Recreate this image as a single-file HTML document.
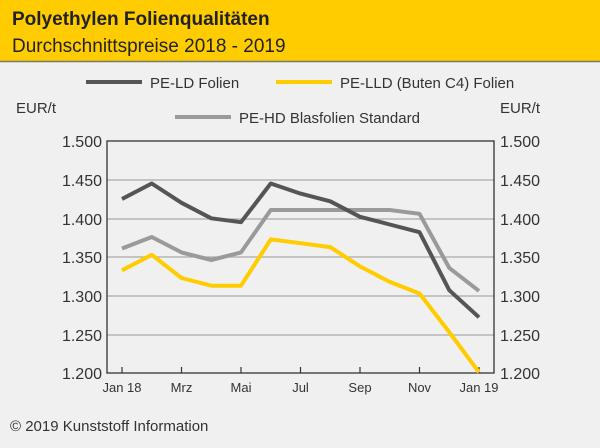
<!DOCTYPE html>
<html><head><style>
body{margin:0;width:600px;height:443px;overflow:hidden;background:#eff0ef;font-family:"Liberation Sans",sans-serif}
</style></head><body>
<svg width="600" height="443" xmlns="http://www.w3.org/2000/svg" font-family="Liberation Sans, sans-serif">
<rect width="600" height="443" fill="#eff0ef"/>
<rect width="600" height="61" fill="#ffcc00"/>
<line x1="0" y1="61.5" x2="600" y2="61.5" stroke="#7a7a6a" stroke-width="1.5"/>
<text x="12" y="25" font-size="19" font-weight="bold" fill="#222">Polyethylen Folienqualitäten</text>
<text x="12" y="52" font-size="19" fill="#222">Durchschnittspreise 2018 - 2019</text>
<g font-size="15" fill="#333">
<line x1="86" y1="82" x2="142" y2="82" stroke="#555" stroke-width="4"/>
<text x="150" y="88">PE-LD Folien</text>
<line x1="276" y1="82" x2="332" y2="82" stroke="#ffcc00" stroke-width="4"/>
<text x="340" y="88">PE-LLD (Buten C4) Folien</text>
<line x1="175" y1="117" x2="231" y2="117" stroke="#9a9a9a" stroke-width="4"/>
<text x="239" y="123">PE-HD Blasfolien Standard</text>
<text x="16" y="113">EUR/t</text>
<text x="500" y="113">EUR/t</text>
</g>
<g stroke="#aaa" stroke-width="1.3">
<line x1="107" y1="180" x2="494" y2="180"/><line x1="107" y1="219" x2="494" y2="219"/>
<line x1="107" y1="257" x2="494" y2="257"/><line x1="107" y1="296" x2="494" y2="296"/>
<line x1="107" y1="335" x2="494" y2="335"/>
</g>
<rect x="107" y="141" width="387" height="232" fill="none" stroke="#333" stroke-width="1.3"/>
<g stroke="#333" stroke-width="1.2">
<line x1="122" y1="373" x2="122" y2="367"/><line x1="181.5" y1="373" x2="181.5" y2="367"/>
<line x1="241" y1="373" x2="241" y2="367"/><line x1="300.5" y1="373" x2="300.5" y2="367"/>
<line x1="360" y1="373" x2="360" y2="367"/><line x1="419.5" y1="373" x2="419.5" y2="367"/>
<line x1="479" y1="373" x2="479" y2="367"/>
</g>
<g font-size="16" fill="#333">
<g text-anchor="end">
<text x="102" y="147">1.500</text><text x="102" y="186">1.450</text><text x="102" y="225">1.400</text>
<text x="102" y="263">1.350</text><text x="102" y="302">1.300</text><text x="102" y="341">1.250</text><text x="102" y="379">1.200</text>
</g>
<g>
<text x="500" y="147">1.500</text><text x="500" y="186">1.450</text><text x="500" y="225">1.400</text>
<text x="500" y="263">1.350</text><text x="500" y="302">1.300</text><text x="500" y="341">1.250</text><text x="500" y="379">1.200</text>
</g>
</g>
<g font-size="13" fill="#333" text-anchor="middle">
<text x="122" y="392">Jan 18</text><text x="181.5" y="392">Mrz</text><text x="241" y="392">Mai</text>
<text x="300.5" y="392">Jul</text><text x="360" y="392">Sep</text><text x="419.5" y="392">Nov</text><text x="479" y="392">Jan 19</text>
</g>
<g fill="none" stroke-width="4" stroke-linejoin="round">
<polyline stroke="#9a9a9a" points="122,248.5 151.75,237 181.5,252.4 211.25,260 241,252.4 270.75,210 300.5,210 330.25,210 360,210 389.75,210 419.5,213.8 449.25,267.9 479,290.9"/>
<polyline stroke="#ffcc00" points="122,270.3 151.75,254.8 181.5,278 211.25,285.7 241,285.7 270.75,239.4 300.5,243.2 330.25,247.1 360,266.4 389.75,281.9 419.5,293.5 449.25,332.1 479,372.3"/>
<polyline stroke="#555" points="122,199 151.75,183.5 181.5,202.8 211.25,218.3 241,222.2 270.75,183.5 300.5,193.6 330.25,201.3 360,216.8 389.75,224.5 419.5,232.2 449.25,290.2 479,317.3"/>
</g>
<text x="10" y="431" font-size="15" fill="#333">© 2019 Kunststoff Information</text>
</svg>
</body></html>
